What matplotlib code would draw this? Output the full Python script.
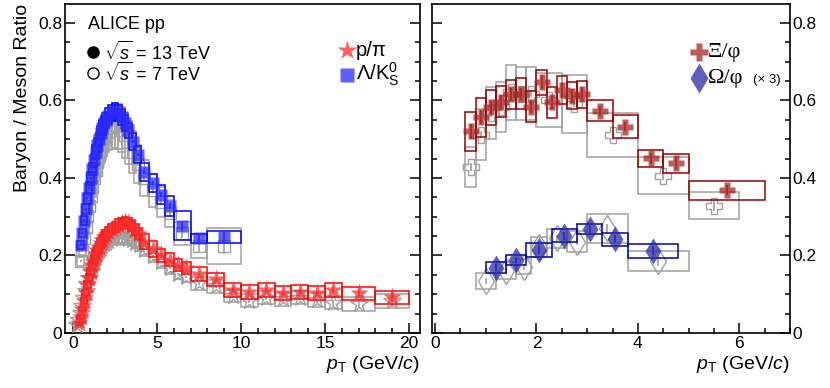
import numpy as np
import matplotlib.pyplot as plt
from matplotlib.patches import Rectangle
from matplotlib.ticker import MultipleLocator

plt.rcParams['font.family'] = ['Liberation Sans', 'DejaVu Sans']
plt.rcParams['mathtext.fontset'] = 'custom'
plt.rcParams['mathtext.rm'] = 'Liberation Sans'
plt.rcParams['mathtext.it'] = 'Liberation Sans:italic'

# ---------------- left panel: p/pi ----------------
ppi13_edges = [0.3, 0.4, 0.5, 0.6, 0.7, 0.8, 0.9, 1.0, 1.1, 1.2, 1.3, 1.4, 1.5, 1.6, 1.7, 1.8, 1.9, 2.0,
               2.2, 2.4, 2.6, 2.8, 3.0, 3.2, 3.4, 3.6, 3.8, 4.0, 4.5, 5.0, 5.5, 6.0, 6.5, 7.0,
               8.0, 9.0, 10.0, 11.0, 12.0, 13.0, 14.0, 15.0, 16.0, 18.0, 20.0]
ppi13_vals = [0.025, 0.042, 0.062, 0.083, 0.104, 0.124, 0.142, 0.159, 0.175, 0.189, 0.202, 0.213, 0.223,
              0.232, 0.240, 0.247, 0.253,
              0.261, 0.268, 0.274, 0.279, 0.283,
              0.286, 0.284, 0.277, 0.267, 0.256,
              0.236, 0.216, 0.201, 0.189, 0.176, 0.167,
              0.152, 0.139, 0.111, 0.107, 0.110, 0.103, 0.106, 0.102, 0.111,
              0.102, 0.092]
ppi13_syst = [0.004, 0.005, 0.006, 0.007, 0.008, 0.009, 0.010, 0.010, 0.011, 0.011, 0.012, 0.012, 0.012,
              0.012, 0.013, 0.013, 0.013,
              0.013, 0.013, 0.013, 0.014, 0.014,
              0.014, 0.014, 0.014, 0.014, 0.014,
              0.020, 0.021, 0.017, 0.017, 0.015, 0.015,
              0.018, 0.017, 0.018, 0.018, 0.018, 0.018, 0.018, 0.018, 0.018,
              0.017, 0.017]
ppi13_stat = [0.002] * 33 + [0.003, 0.004, 0.004, 0.005, 0.005, 0.006, 0.006, 0.007, 0.008, 0.009, 0.011]

ppi7_edges = [0.2] + ppi13_edges
ppi7_vals = [0.020, 0.034, 0.051, 0.070, 0.090, 0.109, 0.127, 0.143, 0.158, 0.171, 0.183, 0.194, 0.203,
             0.211, 0.218, 0.224, 0.229, 0.233,
             0.238, 0.242, 0.245, 0.246, 0.246,
             0.245, 0.243, 0.239, 0.233, 0.226,
             0.215, 0.199, 0.184, 0.168, 0.153, 0.145,
             0.128, 0.120, 0.095, 0.083, 0.091, 0.087, 0.091, 0.085, 0.078,
             0.075, 0.082]
ppi7_syst = [0.004, 0.005, 0.006, 0.007, 0.008, 0.009, 0.010, 0.011, 0.011, 0.012, 0.012, 0.012, 0.013,
             0.013, 0.013, 0.013, 0.014, 0.014,
             0.014, 0.014, 0.014, 0.014, 0.014,
             0.014, 0.014, 0.014, 0.014, 0.014,
             0.016, 0.016, 0.015, 0.015, 0.014, 0.014,
             0.016, 0.016, 0.016, 0.017, 0.017, 0.017, 0.017, 0.017, 0.017,
             0.018, 0.018]
ppi7_stat = [0.002] * 34 + [0.003, 0.004, 0.004, 0.005, 0.005, 0.006, 0.006, 0.007, 0.008, 0.010, 0.014]

# ---------------- left panel: Lambda/K0s ----------------
lk_edges = [0.4, 0.5, 0.6, 0.7, 0.8, 0.9, 1.0, 1.1, 1.2, 1.3, 1.4, 1.5, 1.6, 1.7, 1.8, 1.9, 2.0,
            2.2, 2.4, 2.6, 2.8, 3.0, 3.2, 3.4, 3.7, 4.0, 4.5, 5.0, 5.5, 6.0, 7.0, 8.0, 10.0]
lk13_vals = [0.228, 0.258, 0.290, 0.320, 0.348, 0.374, 0.399, 0.423, 0.446, 0.467, 0.485, 0.501, 0.516,
             0.530, 0.541, 0.550,
             0.560, 0.568, 0.573, 0.568, 0.557, 0.542, 0.523,
             0.494, 0.460,
             0.416, 0.387, 0.357, 0.328,
             0.277, 0.244, 0.247]
lk13_syst = [0.010, 0.011, 0.012, 0.013, 0.014, 0.015, 0.016, 0.016, 0.017, 0.017, 0.018, 0.018, 0.018,
             0.019, 0.019, 0.019,
             0.020, 0.020, 0.020, 0.020, 0.020, 0.020, 0.020,
             0.022, 0.022,
             0.023, 0.024, 0.025, 0.026,
             0.038, 0.012, 0.015]
lk13_stat = [0.003] * 23 + [0.004, 0.004, 0.005, 0.006, 0.007, 0.008, 0.010, 0.012, 0.017]

lk7_vals = [0.185, 0.214, 0.244, 0.273, 0.301, 0.328, 0.354, 0.378, 0.400, 0.421, 0.440, 0.457, 0.472,
            0.486, 0.498, 0.508,
            0.521, 0.531, 0.536, 0.533, 0.524, 0.510, 0.492,
            0.466, 0.436,
            0.400, 0.368, 0.338, 0.309,
            0.257, 0.224, 0.225]
lk7_syst = [0.012, 0.014, 0.016, 0.018, 0.020, 0.022, 0.024, 0.026, 0.028, 0.030, 0.032, 0.034, 0.036,
            0.038, 0.040, 0.042,
            0.050, 0.055, 0.058, 0.058, 0.058, 0.058, 0.056,
            0.054, 0.050,
            0.046, 0.042, 0.038, 0.035,
            0.030, 0.031, 0.047]
lk7_stat = [0.003] * 23 + [0.004, 0.004, 0.005, 0.006, 0.008, 0.009, 0.012, 0.015, 0.020]

# ---------------- right panel: Xi/phi ----------------
xi13_edges = [0.6, 0.8, 1.0, 1.2, 1.4, 1.6, 1.8, 2.0, 2.2, 2.4, 2.6, 2.8, 3.0, 3.5, 4.0, 4.5, 5.0, 6.5]
xi13_vals = [0.520, 0.557, 0.582, 0.597, 0.616, 0.617, 0.584, 0.647, 0.595, 0.627, 0.612, 0.616,
             0.573, 0.532, 0.451, 0.438, 0.368]
xi13_syst = [0.050, 0.050, 0.045, 0.040, 0.038, 0.040, 0.040, 0.032, 0.040, 0.035, 0.035, 0.035,
             0.027, 0.030, 0.022, 0.024, 0.024]
xi13_stat = [0.020, 0.018, 0.016, 0.016, 0.016, 0.016, 0.017, 0.018, 0.018, 0.018, 0.018, 0.018,
             0.012, 0.012, 0.014, 0.016, 0.013]

xi7_edges = [0.6, 0.8, 1.0, 1.2, 1.4, 1.6, 1.8, 2.0, 2.5, 3.0, 4.0, 5.0, 6.0]
xi7_vals = [0.429, 0.512, 0.567, 0.583, 0.621, 0.618, 0.618, 0.601, 0.592, 0.511, 0.406, 0.329]
xi7_syst = [0.052, 0.066, 0.067, 0.064, 0.071, 0.068, 0.068, 0.069, 0.075, 0.057, 0.047, 0.036]
xi7_stat = [0.010, 0.010, 0.010, 0.010, 0.010, 0.010, 0.010, 0.010, 0.010, 0.012, 0.012, 0.014]

# ---------------- right panel: Omega/phi (x3) ----------------
om13_edges = [1.0, 1.4, 1.8, 2.3, 2.8, 3.3, 3.8, 4.8]
om13_vals = [0.169, 0.188, 0.214, 0.251, 0.268, 0.242, 0.212]
om13_syst = [0.014, 0.013, 0.019, 0.017, 0.013, 0.017, 0.018]
om13_stat = [0.008, 0.008, 0.010, 0.010, 0.010, 0.010, 0.012]

om7_edges = [0.8, 1.2, 1.6, 1.9, 2.2, 2.6, 3.0, 3.8, 5.0]
om7_vals = [0.134, 0.161, 0.171, 0.222, 0.244, 0.236, 0.270, 0.186]
om7_syst = [0.021, 0.021, 0.020, 0.025, 0.025, 0.027, 0.037, 0.025]
om7_stat = [0.008, 0.008, 0.008, 0.010, 0.010, 0.010, 0.012, 0.012]

GRAY = '#a0a0a0'


def draw_series(ax, edges, vals, stat, syst, color, box_color, marker, ms,
                filled=True, min_half=0.0, z=2):
    edges = np.array(edges)
    x = (edges[:-1] + edges[1:]) / 2
    half = np.maximum((edges[1:] - edges[:-1]) / 2, min_half)
    for xi, v, s, h in zip(x, vals, syst, half):
        ax.add_patch(Rectangle((xi - h, v - s), 2 * h, 2 * s, fill=False,
                               edgecolor=box_color, lw=1.1, zorder=z))
    ax.vlines(x, np.array(vals) - np.array(stat), np.array(vals) + np.array(stat),
              color=color, lw=1.2, zorder=z + 0.5)
    if filled:
        ax.plot(x, vals, ls='none', marker=marker, ms=ms, mfc=color, mec='none',
                alpha=0.75, zorder=z + 1)
    else:
        ax.plot(x, vals, ls='none', marker=marker, ms=ms, mfc='none', mec=color,
                mew=1.0, zorder=z + 1)


fig = plt.figure(figsize=(8.3, 3.88), dpi=100)
ax1 = fig.add_axes([65 / 830, 1 - 333 / 388, 355 / 830, 329 / 388])
ax2 = fig.add_axes([432 / 830, 1 - 333 / 388, 358 / 830, 329 / 388])

# 7 TeV first (gray, open), then 13 TeV on top
draw_series(ax1, lk_edges, lk7_vals, lk7_stat, lk7_syst, GRAY, GRAY, 's', 8, False, 0.2, 2)
draw_series(ax1, ppi7_edges, ppi7_vals, ppi7_stat, ppi7_syst, GRAY, GRAY, '*', 13, False, 0.2, 2)
draw_series(ax1, lk_edges, lk13_vals, lk13_stat, lk13_syst, '#2a2aff', '#0000ff', 's', 8.5, True, 0.2, 5)
draw_series(ax1, ppi13_edges, ppi13_vals, ppi13_stat, ppi13_syst, '#ff2a2a', '#ff0000', '*', 14, True, 0.2, 5)

draw_series(ax2, xi7_edges, xi7_vals, xi7_stat, xi7_syst, GRAY, GRAY, 'P', 11, False, 0, 2)
draw_series(ax2, om7_edges, om7_vals, om7_stat, om7_syst, GRAY, GRAY, 'd', 13, False, 0, 2)
draw_series(ax2, xi13_edges, xi13_vals, xi13_stat, xi13_syst, '#a82525', '#990000', 'P', 11, True, 0, 5)
draw_series(ax2, om13_edges, om13_vals, om13_stat, om13_syst, '#2a2aa8', '#0000aa', 'd', 13, True, 0, 5)

ax1.set_xlim(-0.476, 20.65)
ax2.set_xlim(-0.06, 7.0)
for ax in (ax1, ax2):
    ax.set_ylim(0, 0.849)
    ax.yaxis.set_major_locator(MultipleLocator(0.2))
    ax.yaxis.set_minor_locator(MultipleLocator(0.05))
    ax.yaxis.set_major_formatter(plt.FuncFormatter(lambda v, p: '0' if v == 0 else f'{v:.1f}'))
    ax.tick_params(which='both', direction='in', top=False, right=True, labelsize=12.5, width=1.1)
    ax.tick_params(which='major', length=7, pad=2)
    ax.tick_params(which='minor', length=3.5)
    for sp in ax.spines.values():
        sp.set_linewidth(1.2)
    ax.set_xlabel(r'$p_{\mathrm{T}}$ (GeV/$c$)', fontsize=14, loc='right', labelpad=2)

ax1.xaxis.set_major_locator(MultipleLocator(5))
ax1.xaxis.set_minor_locator(MultipleLocator(1))
ax2.xaxis.set_major_locator(MultipleLocator(2))
ax2.xaxis.set_minor_locator(MultipleLocator(0.5))
ax2.tick_params(labelleft=False, labelright=True)
ax1.set_ylabel('Baryon / Meson Ratio', fontsize=14, loc='top', labelpad=5)

# left panel annotations
ax1.text(0.89, 0.795, 'ALICE pp', fontsize=13, va='center')
ax1.plot([1.19], [0.725], 'o', color='k', ms=8)
ax1.text(1.85, 0.725, r'$\sqrt{s}$ = 13 TeV', fontsize=13, va='center')
ax1.plot([1.19], [0.671], 'o', mfc='none', mec='k', ms=8, mew=1.0)
ax1.text(1.85, 0.671, r'$\sqrt{s}$ = 7 TeV', fontsize=13, va='center')
ax1.plot([16.3], [0.730], '*', color='#ff2a2a', alpha=0.75, ms=15, mec='none')
ax1.text(16.85, 0.730, 'p/π', fontsize=14.5, va='center')
ax1.plot([16.3], [0.666], 's', color='#2a2aff', alpha=0.75, ms=9.5, mec='none')
ax1.text(16.85, 0.668, r'Λ/K$^{0}_{\mathrm{S}}$', fontsize=14.5, va='center')

# right panel annotations
ax2.plot([5.21], [0.725], 'P', color='#a82525', alpha=0.75, ms=13, mec='none')
ax2.text(5.38, 0.725, 'Ξ/φ', fontsize=16, va='center', family='Liberation Serif')
ax2.plot([5.21], [0.658], 'd', color='#2a2aa8', alpha=0.75, ms=15, mec='none')
ax2.text(5.38, 0.658, 'Ω/φ', fontsize=16, va='center', family='Liberation Serif')
ax2.text(6.28, 0.652, '(× 3)', fontsize=9.5, va='center')

fig.savefig('out.png', dpi=100)
